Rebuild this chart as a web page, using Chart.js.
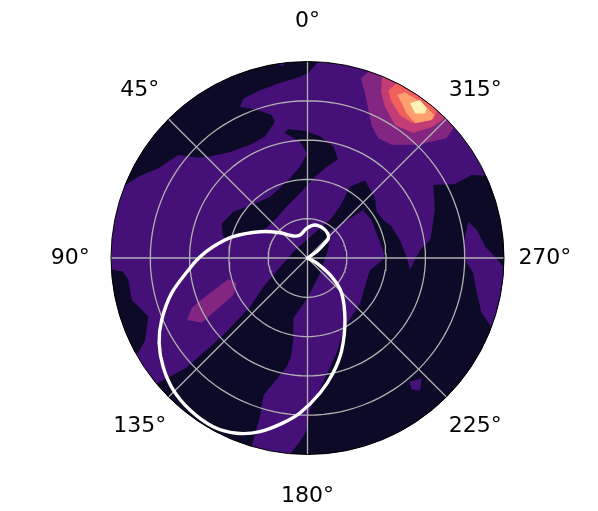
<!DOCTYPE html>
<html>
<head>
<meta charset="utf-8">
<title>Polar contour</title>
<style>
html, body { margin: 0; padding: 0; background: #fff; }
canvas { display: block; }
</style>
</head>
<body>
<canvas id="chart" width="598" height="511"></canvas>
<script src="https://cdn.jsdelivr.net/npm/chart.js@4"></script>
<script>
// Axis
const outerRadius = 5;
const ringRadii = [1, 2, 3, 4];
const angleTicks = [0, 45, 90, 135, 180, 225, 270, 315];
const angleLabels = ['0°', '45°', '90°', '135°', '180°', '225°', '270°', '315°'];
const labelRadius = 6.04;

// White curve (angle in degrees, radius)
const curveAngles = [300, 304.4, 309.5, 313.4, 320.7, 332, 347.2, 361.5, 378, 392.8, 407.4, 421, 434, 443.2, 449.5, 454.9, 464.5, 473, 479.8, 487, 494.5, 502.3, 510.8, 518, 524.7, 531.6, 537.2, 545.3, 552.5, 560.4, 571.2, 584.3, 592.3, 601.5, 610];
const curveRadii = [0, 0.28, 0.52, 0.73, 0.81, 0.856, 0.86, 0.756, 0.616, 0.667, 0.95, 1.38, 1.97, 2.42, 2.74, 3.0, 3.57, 4.03, 4.35, 4.6, 4.79, 4.89, 4.92, 4.81, 4.58, 4.24, 3.95, 3.45, 3.0, 2.5, 1.84, 1.24, 0.78, 0.27, 0];

// Contour regions, vertices as [x, y] in radius units
const lowTop = [[-4.64,1.86],[-4.26,2.09],[-3.80,2.28],[-3.29,2.62],[-2.82,2.56],[-2.48,2.58],[-1.97,2.70],[-1.46,2.88],[-1.08,3.09],[-0.83,3.47],[-0.91,3.64],[-1.29,3.77],[-1.72,3.85],[-1.63,4.06],[-1.21,4.27],[-0.70,4.45],[-0.19,4.61],[0.02,4.71],[0.27,5],[-5,5],[-5,1.7]];
const lowInner = [[-0.59,3.19],[-0.49,3.28],[-0.06,3.23],[0.32,3.10],[0.66,2.83],[0.78,2.51],[0.49,2.32],[0.15,2.03],[-0.15,1.69],[-0.53,1.31],[-0.83,0.97],[-1.12,0.70],[-1.72,0.61],[-2.06,0.48],[-2.16,0.59],[-2.18,0.88],[-1.89,1.18],[-1.42,1.35],[-0.95,1.56],[-0.49,1.98],[-0.19,2.32],[-0.01,2.66],[-0.19,2.96]];
const lowDiagonal = [[-4.2,-3.4],[-3.58,-3.06],[-3.12,-2.81],[-2.91,-2.64],[-2.14,-1.96],[-1.46,-1.24],[-1.12,-0.73],[-0.87,-0.43],[-0.32,0.20],[0.32,0.76],[0.57,0.97],[0.83,1.31],[1.08,1.81],[1.46,1.97],[1.72,1.52],[1.38,1.20],[0.91,0.90],[0.55,0.67],[0.53,0.25],[0.32,-0.39],[-0.01,-1.03],[-0.36,-1.53],[-0.36,-2.09],[-0.42,-2.51],[-0.53,-2.77],[-0.87,-3.19],[-1.12,-3.49],[-1.21,-4.04],[-1.42,-4.78],[-1.47,-5],[-5,-5],[-5,-3.4]];
const lowRight = [[1.63,1.48],[1.72,1.52],[1.76,1.18],[1.93,0.97],[2.14,0.80],[2.35,0.46],[2.52,0.03],[2.61,-0.29],[2.86,0.20],[3.12,0.46],[3.16,0.67],[3.24,1.22],[3.20,1.86],[3.75,1.88],[4.18,2.11],[4.52,2.09],[5,2.09],[5,-5],[-0.45,-5],[-0.19,-4.67],[-0.02,-4.38],[0.06,-3.87],[0.39,-3.18],[0.74,-2.42],[0.95,-1.76],[1.34,-1.15],[1.51,-0.56],[1.59,-0.31],[1.97,0],[1.92,0.20],[1.84,0.41],[1.63,0.97],[1.42,1.20]];
const lowLeft = [[-4.98,-0.29],[-4.69,-0.35],[-4.56,-0.56],[-4.47,-1.07],[-4.05,-1.49],[-4.13,-2.09],[-4.31,-2.42],[-5,-2.5],[-5,-0.29]];
const midTopBlip = [[-0.80,5],[-0.50,5],[-0.65,4.87]];
const midRight = [[4.09,0.92],[4.31,0.71],[4.52,0.29],[4.81,-0.01],[5,-0.25],[5,-1.9],[4.75,-1.85],[4.43,-1.40],[4.31,-0.89],[4.21,-0.36],[4.05,-0.13],[3.96,0.20],[4.01,0.54]];
const midSquare = [[2.59,-3.15],[2.91,-3.06],[2.86,-3.38],[2.65,-3.34]];
const level2Blob = [[-2.02,-0.54],[-1.80,-0.64],[-1.89,-0.94],[-2.69,-1.65],[-3.06,-1.58],[-2.95,-1.28],[-2.82,-1.15]];
const level2Peak = [[1.55,4.74],[1.36,4.57],[1.46,4.19],[1.55,3.77],[1.63,3.38],[1.80,3.05],[2.14,2.88],[2.82,2.88],[3.54,3.05],[3.71,3.30],[4,3.6],[3,5],[1.6,5]];
const level3Peak = [[1.89,4.53],[1.87,4.23],[1.97,3.85],[2.23,3.38],[2.69,3.19],[3.16,3.33],[3.41,3.49],[3.7,3.8],[2.5,5],[2,5]];
const level4Peak = [[2.27,4.45],[2.06,4.26],[2.12,4.02],[2.35,3.64],[2.65,3.44],[3.20,3.53],[3.29,3.72],[3.6,4],[2.6,5]];
const level5Peak = [[2.28,4.15],[2.48,4.22],[2.94,3.94],[3.22,3.64],[3.16,3.51],[2.74,3.43],[2.52,3.68],[2.40,3.94]];
const level6Peak = [[2.61,3.94],[2.86,4.02],[3.03,3.81],[2.99,3.68],[2.74,3.68]];

const colorLow = '#0c0a27';
const colorMid = '#451077';
const colorL2 = '#832681';
const colorL3 = '#c43c75';
const colorL4 = '#f1605d';
const colorL5 = '#fe9f6d';
const colorL6 = '#fcf2b4';
const gridColor = '#b0b0b0';

function polar(angle, r) {
    const t = angle * Math.PI / 180;
    return { x: -r * Math.sin(t), y: r * Math.cos(t) };
}

function ringPoints(r) {
    const pts = [];
    for (let a = 0; a <= 360; a += 3) pts.push(polar(a, r));
    return pts;
}

function region(vertices, color) {
    const data = vertices.map(v => ({ x: v[0], y: v[1] }));
    data.push(data[0]);
    return { data: data, showLine: true, fill: 'shape', backgroundColor: color, borderWidth: 0, borderColor: color, pointRadius: 0, tension: 0 };
}

function gridLine(data) {
    return { data: data, showLine: true, fill: false, borderColor: gridColor, borderWidth: 1.3, pointRadius: 0, tension: 0 };
}

// Paint order: first in this list is at the bottom
const layers = [
    region(ringPoints(outerRadius).map(p => [p.x, p.y]), colorMid),
    region(lowTop, colorLow),
    region(lowInner, colorLow),
    region(lowDiagonal, colorLow),
    region(lowRight, colorLow),
    region(lowLeft, colorLow),
    region(midTopBlip, colorMid),
    region(midRight, colorMid),
    region(midSquare, colorMid),
    region(level2Blob, colorL2),
    region(level2Peak, colorL2),
    region(level3Peak, colorL3),
    region(level4Peak, colorL4),
    region(level5Peak, colorL5),
    region(level6Peak, colorL6),
    ...ringRadii.map(r => gridLine(ringPoints(r))),
    ...angleTicks.map(a => gridLine([polar(a, 0), polar(a, outerRadius)])),
    {
        data: curveAngles.map((a, i) => polar(a, curveRadii[i])),
        showLine: true,
        fill: false,
        borderColor: '#ffffff',
        borderWidth: 3.4,
        borderCapStyle: 'round',
        pointRadius: 0,
        tension: 0.3
    }
];
layers.forEach((d, i) => { d.order = -i; });

const polarFrame = {
    id: 'polarFrame',
    beforeDatasetsDraw(chart) {
        const { ctx, scales } = chart;
        const cx = scales.x.getPixelForValue(0);
        const cy = scales.y.getPixelForValue(0);
        const R = scales.x.getPixelForValue(outerRadius) - cx;
        ctx.save();
        ctx.beginPath();
        ctx.arc(cx, cy, R, 0, Math.PI * 2);
        ctx.clip();
    },
    afterDatasetsDraw(chart) {
        const { ctx, scales } = chart;
        ctx.restore();
        const cx = scales.x.getPixelForValue(0);
        const cy = scales.y.getPixelForValue(0);
        const R = scales.x.getPixelForValue(outerRadius) - cx;
        ctx.save();
        ctx.beginPath();
        ctx.arc(cx, cy, R, 0, Math.PI * 2);
        ctx.strokeStyle = '#000000';
        ctx.lineWidth = 1;
        ctx.stroke();
        ctx.fillStyle = '#000000';
        ctx.font = '22px "DejaVu Sans"';
        ctx.textAlign = 'center';
        ctx.textBaseline = 'middle';
        angleTicks.forEach((a, i) => {
            const p = polar(a, labelRadius);
            ctx.fillText(angleLabels[i], scales.x.getPixelForValue(p.x), scales.y.getPixelForValue(p.y) + 0.5);
        });
        ctx.restore();
    }
};

new Chart(document.getElementById('chart'), {
    type: 'scatter',
    data: { datasets: layers },
    options: {
        responsive: false,
        animation: false,
        layout: { padding: { left: 111, right: 94, top: 61.5, bottom: 56.5 } },
        scales: {
            x: { type: 'linear', min: -outerRadius, max: outerRadius, display: false },
            y: { type: 'linear', min: -outerRadius, max: outerRadius, display: false }
        },
        plugins: { legend: { display: false }, tooltip: { enabled: false } }
    },
    plugins: [polarFrame]
});
</script>
</body>
</html>
